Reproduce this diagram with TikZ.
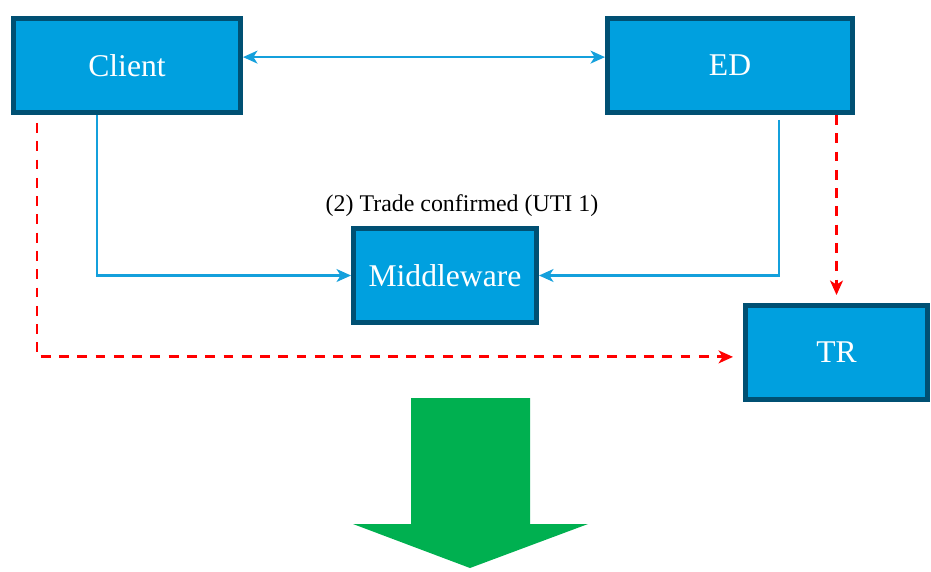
\documentclass[tikz,border=0pt]{standalone}
\usepackage{fontspec}
\setmainfont{Liberation Serif}
\usetikzlibrary{arrows.meta,positioning}
\definecolor{boxfill}{RGB}{0,160,223}
\definecolor{boxedge}{RGB}{0,80,115}
\definecolor{linkblue}{RGB}{20,160,220}
\definecolor{flowgreen}{RGB}{0,176,80}

\begin{document}
\begin{tikzpicture}[x=0.025cm,y=-0.025cm,>={Stealth[length=0.36cm,width=0.32cm,inset=0.1cm]},
  party/.style={draw=boxedge,fill=boxfill,line width=3.5pt,text=white,minimum height=2.35cm,font=\fontsize{22.5}{26}\selectfont},
  link/.style={draw=linkblue,line width=1.8pt},
  report/.style={draw=red,line width=2pt,dash pattern=on 7pt off 6pt}]
\useasboundingbox (0,0) rectangle (931,571);
\node[party,minimum width=5.675cm] (client) at (127,65.5) {Client};
\node[party,minimum width=6.125cm] (ed) at (730,65.5) {ED};
\node[party,minimum width=4.575cm] (mw) at (445,275.5) {Middleware};
\node[party,minimum width=4.55cm] (tr) at (836.5,352.5) {TR};
\node[above=0.1cm of mw,xshift=0.425cm,font=\fontsize{17}{20}\selectfont] (trade) {(2) Trade confirmed (UTI 1)};
\draw[link,<->] ([yshift=0.21cm]client.east) -- ([yshift=0.21cm]ed.west);
\draw[link,->] ([xshift=-0.75cm]client.south) |- (mw.west);
\draw[link,->] ([xshift=1.225cm,yshift=-0.125cm]ed.south) |- (mw.east);
\draw[report,->] ([xshift=-2.25cm,yshift=-0.2cm]client.south) |- ([xshift=-0.25cm,yshift=-0.11cm]tr.west);
\draw[report,->,shorten >=0.2cm] (tr.north |- ed.south) -- (tr.north);
% big arrow below
\fill[flowgreen] (411,398) -- (530,398) -- (530,524) -- (588,524) -- (470,568) -- (353,524) -- (411,524) -- cycle;
\end{tikzpicture}
\end{document}
